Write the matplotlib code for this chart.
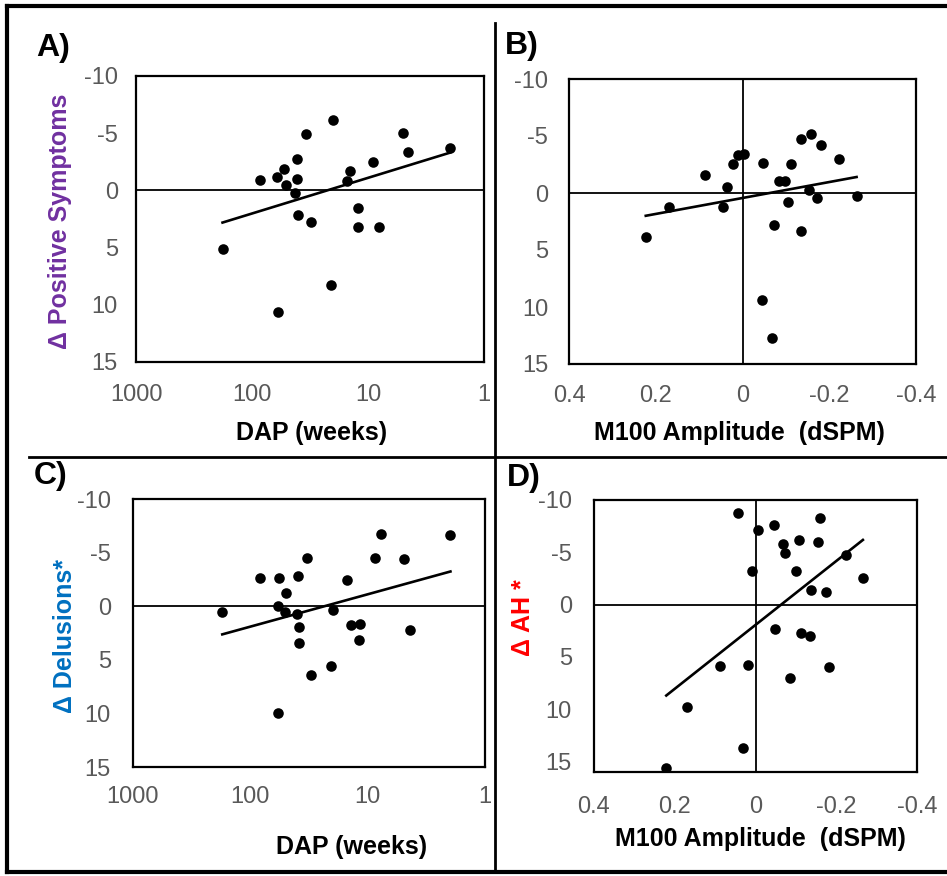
import numpy as np
import matplotlib
matplotlib.use("Agg")
import matplotlib.pyplot as plt
from matplotlib.lines import Line2D
from matplotlib.ticker import NullLocator

plt.rcParams['font.family'] = ['Liberation Sans', 'DejaVu Sans']
plt.rcParams['axes.unicode_minus'] = False

# Panel A : DAP (weeks) vs change in positive symptoms
dap_a = [179.5, 85.5, 60.7, 53.1, 51.4, 40.6, 40.6, 42.2, 33.9, 40.1, 31.1, 20.2,
         20.9, 59.4, 14.2, 15.3, 12.2, 12.2, 9.04, 8.02, 4.98, 4.51, 1.97]
pos_a = [5.08, -0.89, -1.21, -1.85, -0.45, -2.72, -0.98, 0.19, -4.96, 2.11, 2.75, -6.19,
         8.30, 10.6, -1.73, -0.83, 1.55, 3.21, -2.46, 3.21, -4.99, -3.39, -3.74]

# Panel B : M100 amplitude vs change in positive symptoms
m100_b = [0.223, 0.169, 0.087, 0.045, 0.035, 0.021, 0.010, -0.004, -0.048, -0.046,
          -0.067, -0.073, -0.085, -0.098, -0.105, -0.112, -0.136, -0.158, -0.136,
          -0.154, -0.171, -0.181, -0.222, -0.263]
pos_b = [3.85, 1.27, -1.60, 1.21, -0.54, -2.53, -3.30, -3.44, -2.62, 9.41,
         12.75, 2.82, -1.07, -1.07, 0.83, -2.53, -4.76, -5.14, 3.35,
         -0.22, 0.45, -4.20, -2.97, 0.28]

# Panel C : DAP (weeks) vs change in delusions
dap_c = [173.4, 83.2, 57.0, 58.1, 50.4, 49.3, 39.2, 39.7, 38.5, 38.5, 32.7, 58.1,
         30.2, 20.4, 19.6, 14.9, 13.8, 11.7, 11.9, 8.66, 7.74, 4.93, 4.33, 1.97]
del_c = [0.57, -2.63, -2.63, 0.01, 0.57, -1.23, -2.85, 0.70, 1.94, 3.43, -4.50, 9.96,
         6.39, 5.61, 0.32, -2.41, 1.72, 1.66, 3.12, -4.50, -6.77, -4.40, 2.22, -6.67]

# Panel D : M100 amplitude vs change in AH
m100_d = [0.043, -0.005, -0.046, -0.160, -0.068, -0.074, -0.108, -0.155, 0.008, -0.100,
          -0.224, -0.266, -0.138, -0.174, -0.049, -0.112, -0.136, 0.088, 0.019,
          -0.181, -0.086, 0.169, 0.031, 0.221]
ah_d = [-8.72, -7.09, -7.60, -8.31, -5.78, -4.98, -6.20, -5.97, -3.23, -3.23,
        -4.73, -2.56, -1.37, -1.21, 2.30, 2.68, 3.00, 5.85, 5.75,
        5.94, 7.06, 9.81, 13.67, 15.59]

W, H = 947, 876
fig = plt.figure(figsize=(W / 100, H / 100), dpi=100)


def fx(x):
    return x / W


def fy(y):
    return 1 - y / H


def make_axes(l, t, r, b):
    return fig.add_axes([fx(l), fy(b), fx(r - l), (b - t) / H])


tick_col = '#595959'


def style(ax, xpad, ypad):
    for s in ax.spines.values():
        s.set_linewidth(1.6)
        s.set_color('black')
    ax.xaxis.set_minor_locator(NullLocator())
    ax.tick_params(which='both', length=0, labelsize=17, labelcolor=tick_col)
    ax.tick_params(axis='x', pad=xpad)
    ax.tick_params(axis='y', pad=ypad)


def scatter_trend(ax, x, y, logx=False):
    x = np.array(x)
    y = np.array(y)
    ax.scatter(x, y, s=58, color='black', zorder=3, linewidths=0)
    xs = np.array([x.min(), x.max()])
    if logx:
        a, b = np.polyfit(np.log10(x), y, 1)
        ax.plot(xs, a * np.log10(xs) + b, color='black', lw=1.9, zorder=2)
    else:
        a, b = np.polyfit(x, y, 1)
        ax.plot(xs, a * xs + b, color='black', lw=1.9, zorder=2)


yticks = [-10, -5, 0, 5, 10, 15]

# A
axA = make_axes(136, 76, 484, 362)
scatter_trend(axA, dap_a, pos_a, logx=True)
axA.set_xscale('log')
axA.set_xlim(1000, 1)
axA.set_ylim(15, -10)
axA.set_xticks([1000, 100, 10, 1])
axA.set_xticklabels(['1000', '100', '10', '1'])
axA.set_yticks(yticks)
axA.axhline(0, color='black', lw=1.3, zorder=1)
style(axA, 16, 13)

# B
axB = make_axes(569, 79, 916, 364)
scatter_trend(axB, m100_b, pos_b)
axB.set_xlim(0.4, -0.4)
axB.set_ylim(15, -10)
axB.set_xticks([0.4, 0.2, 0, -0.2, -0.4])
axB.set_xticklabels(['0.4', '0.2', '0', '-0.2', '-0.4'])
axB.set_yticks(yticks)
axB.axhline(0, color='black', lw=1.3, zorder=1)
axB.axvline(0, color='black', lw=1.3, zorder=1)
style(axB, 15, 15)

# C
axC = make_axes(133, 499, 485, 767)
scatter_trend(axC, dap_c, del_c, logx=True)
axC.set_xscale('log')
axC.set_xlim(1000, 1)
axC.set_ylim(15, -10)
axC.set_xticks([1000, 100, 10, 1])
axC.set_xticklabels(['1000', '100', '10', '1'])
axC.set_yticks(yticks)
axC.axhline(0, color='black', lw=1.3, zorder=1)
style(axC, 14, 16)

# D
axD = make_axes(594, 500, 917, 772)
scatter_trend(axD, m100_d, ah_d)
axD.set_xlim(0.4, -0.4)
axD.set_ylim(16, -10)
axD.set_xticks([0.4, 0.2, 0, -0.2, -0.4])
axD.set_xticklabels(['0.4', '0.2', '0', '-0.2', '-0.4'])
axD.set_yticks(yticks)
axD.axhline(0, color='black', lw=1.3, zorder=1)
axD.axvline(0, color='black', lw=1.3, zorder=1)
style(axD, 17, 16)

# axis titles
lab = dict(fontsize=18, fontweight='bold', ha='center', va='center')
fig.text(fx(312), fy(433), 'DAP (weeks)', **lab)
fig.text(fx(739), fy(433), 'M100 Amplitude  (dSPM)', **lab)
fig.text(fx(352), fy(847), 'DAP (weeks)', **lab)
fig.text(fx(760), fy(839), 'M100 Amplitude  (dSPM)', **lab)

fig.text(fx(60), fy(221), 'Δ Positive Symptoms', color='#7030A0', rotation=90, **lab)
fig.text(fx(65), fy(636), 'Δ Delusions*', color='#0070C0', rotation=90, **lab)
fig.text(fx(523), fy(618), 'Δ AH *', color='#FF0000', rotation=90, **lab)

# panel letters
let = dict(fontsize=23, fontweight='bold', ha='center', va='center')
fig.text(fx(53), fy(48), 'A)', **let)
fig.text(fx(522), fy(46), 'B)', **let)
fig.text(fx(51), fy(476), 'C)', **let)
fig.text(fx(524), fy(478), 'D)', **let)

# frame and dividers
fig.add_artist(Line2D([fx(7), 1], [fy(6), fy(6)], color='black', lw=3))
fig.add_artist(Line2D([fx(7), fx(7)], [fy(6), fy(872)], color='black', lw=3))
fig.add_artist(Line2D([fx(7), 1], [fy(872), fy(872)], color='black', lw=3))
fig.add_artist(Line2D([fx(495), fx(495)], [fy(23), fy(872)], color='black', lw=2))
fig.add_artist(Line2D([fx(29), 1], [fy(457), fy(457)], color='black', lw=2))

fig.savefig('out.png', dpi=100)
